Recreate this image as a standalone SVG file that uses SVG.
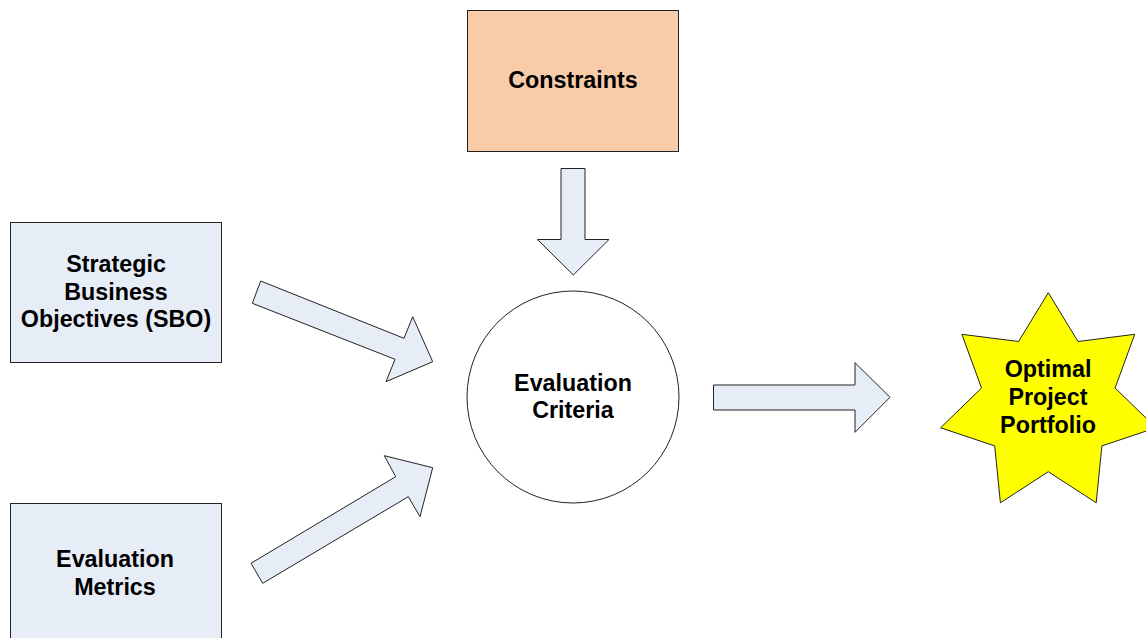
<svg xmlns="http://www.w3.org/2000/svg" width="1146" height="638" viewBox="0 0 1146 638">
<style>
.box{fill:#E7EDF7;stroke:#222;stroke-width:1}
.arrow{fill:#E7EDF7;stroke:#222;stroke-width:1;stroke-linejoin:miter}
.lbl{font-family:"Liberation Sans",Arial,sans-serif;font-weight:bold;font-size:23.3px;fill:#000;text-anchor:middle}
</style>
<rect width="1146" height="638" fill="#fff"/>
<g id="constraints">
<rect x="467.5" y="10.5" width="211" height="141" fill="#F8CCA8" stroke="#222" stroke-width="1"/>
<text class="lbl" x="573" y="88">Constraints</text>
</g>
<g id="sbo">
<rect class="box" x="10.5" y="222.5" width="211" height="140"/>
<text class="lbl" x="116" y="272">Strategic</text>
<text class="lbl" x="116" y="299.5">Business</text>
<text class="lbl" x="116" y="327">Objectives (SBO)</text>
</g>
<g id="metrics">
<rect class="box" x="10.5" y="503.5" width="211" height="150"/>
<text class="lbl" x="115" y="567">Evaluation</text>
<text class="lbl" x="115" y="595">Metrics</text>
</g>
<g id="criteria">
<circle cx="573" cy="397" r="106" fill="#fff" stroke="#222" stroke-width="1"/>
<text class="lbl" x="573" y="391">Evaluation</text>
<text class="lbl" x="573" y="418">Criteria</text>
</g>
<g id="portfolio">
<polygon points="1048.3,292.7 1078,341.5 1134.7,334.3 1115.1,388 1156,427.8 1101.9,445.9 1096.2,502.8 1048.3,471.7 1000.4,502.8 994.7,445.9 940.6,427.8 981.5,388 961.9,334.3 1018.6,341.5" fill="#FFFF00" stroke="#222" stroke-width="1"/>
<text class="lbl" x="1048" y="377">Optimal</text>
<text class="lbl" x="1048" y="405">Project</text>
<text class="lbl" x="1048" y="433">Portfolio</text>
</g>
<g id="connectors">
<polygon class="arrow" points="561,168.5 585,168.5 585,239.5 609,239.5 573.3,275 537.5,239.5 561,239.5"/>
<polygon class="arrow" points="260.7,281 404,338.3 412.7,316.7 432.7,361.7 386,381.7 395,359.3 252.3,303.3"/>
<polygon class="arrow" points="251,563.3 395.7,476.7 384.3,455.7 432.7,467.7 420,516.7 408.3,496.7 262.7,583.3"/>
<polygon class="arrow" points="713.5,385 855,385 855,362.7 890,397.3 855,432.3 855,410 713.5,410"/>
</g>
</svg>
